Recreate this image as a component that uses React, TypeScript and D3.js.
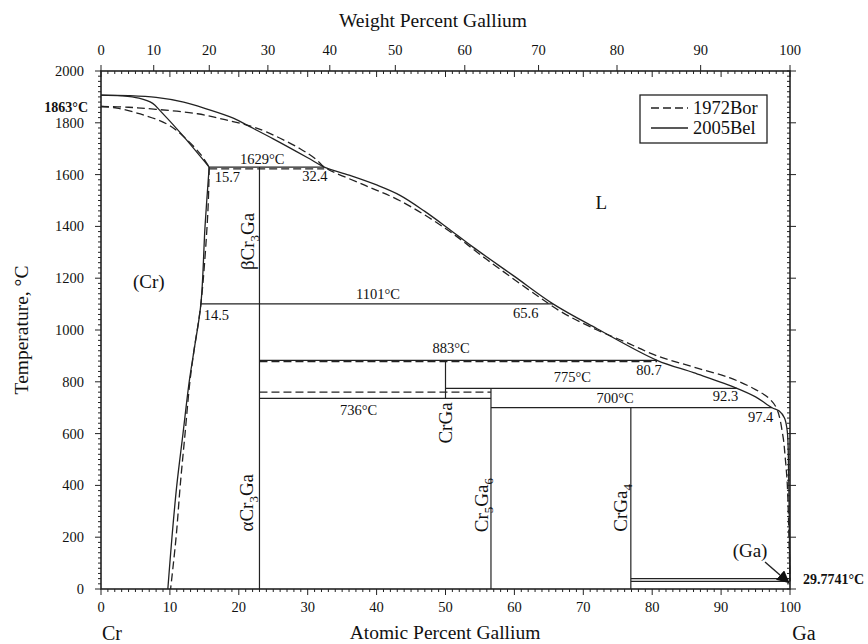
import React, { useEffect, useRef } from 'react';
import * as d3 from 'd3';

type Pt = [number, number];

// 2005Bel (solid) — atomic % Ga, temperature °C
const belLiquidus: Pt[] = [
  [0, 1907], [4, 1905], [8, 1898], [12, 1880], [15.4, 1853], [19.2, 1818], [21.6, 1785], [25, 1738],
  [30, 1665], [32.4, 1629], [36, 1598], [40, 1560], [43.4, 1520], [47, 1458], [50.5, 1390], [54, 1320],
  [60, 1207], [65.6, 1101], [72, 1005], [80.7, 883], [86, 835], [92.3, 775], [95, 742],
  [97.4, 700], [98.4, 688], [99.2, 660], [99.6, 610], [99.8, 450], [99.92, 200], [100, 29.77],
];
const belSolidus: Pt[] = [[0, 1907], [3, 1904], [5.5, 1895], [7.5, 1875], [8.6, 1846], [11.5, 1762], [15.7, 1629]];
const belSolvus: Pt[] = [[15.7, 1629], [15.1, 1400], [14.5, 1101], [13.5, 921], [12.8, 800], [11.9, 600], [11.0, 400], [10.3, 200], [9.7, 0]];

// 1972Bor (dashed)
const borLiquidus: Pt[] = [
  [0, 1863], [4, 1860], [8, 1852], [14, 1835], [18, 1812], [21.6, 1788], [24, 1765], [28.9, 1700],
  [31.3, 1657], [32.4, 1629], [38, 1562], [43.4, 1499], [50, 1392], [56, 1272], [63.7, 1125], [67, 1067],
  [72, 1000], [76, 955], [80.7, 900], [86, 857], [91.3, 815], [95, 770], [97, 735],
  [98.1, 695], [99, 586], [99.3, 509], [99.6, 408], [99.85, 200], [100, 29.77],
];
const borSolidus: Pt[] = [[0, 1863], [2.3, 1857], [5.7, 1834], [9.6, 1795], [11.9, 1749], [14.4, 1680], [15.7, 1629]];
const borSolvus: Pt[] = [[15.7, 1629], [15.5, 1450], [14.5, 1101], [13.5, 921], [12.9, 800], [12.2, 600], [11.5, 400], [10.9, 200], [10.1, 0]];

// isotherms: [from at%, to at%, T]
const belIsotherms: [number, number, number][] = [
  [15.7, 32.4, 1629], [14.5, 65.6, 1101], [23, 80.7, 883], [50, 92.3, 775],
  [23, 56.6, 736], [56.6, 97.4, 700], [76.9, 100, 29.7741], [76.9, 100, 40],
];
const borIsotherms: [number, number, number][] = [[15.7, 32.4, 1622], [23, 80.7, 878], [23, 56.6, 760]];

// compound lines: [at%, top T, bottom T]
const compounds: [number, number, number][] = [[23, 1629, 0], [50, 883, 736], [56.6, 775, 0], [76.9, 700, 0]];

const atTicks = d3.range(0, 101, 10);
const tempTicks = d3.range(0, 2001, 200);
const wtTicks = d3.range(0, 101, 10);

// numeric labels: [text, at%, T, anchor]
const numLabels: [string, number, number, string][] = [
  ['1629°C', 23.4, 1639, 'middle'], ['15.7', 16.5, 1570, 'start'], ['32.4', 29.2, 1574, 'start'],
  ['14.5', 14.9, 1040, 'start'], ['1101°C', 40.2, 1121, 'middle'],
  ['65.6', 59.8, 1047, 'start'], ['883°C', 50.8, 910, 'middle'], ['775°C', 68.4, 798, 'middle'],
  ['736°C', 37.4, 673, 'middle'], ['700°C', 74.6, 717, 'middle'], ['80.7', 77.7, 826, 'start'],
  ['92.3', 88.8, 726, 'start'], ['97.4', 93.9, 645, 'start'],
];
// region labels
const regionLabels: [string, number, number][] = [['(Cr)', 6.95, 1162], ['L', 72.6, 1469], ['(Ga)', 94.2, 124]];

// rotated phase labels: [parts with subscripts, at%, T]
const phaseLabels: [[string, boolean][], number, number][] = [
  [[['βCr', false], ['3', true], ['Ga', false]], 22.2, 1342],
  [[['αCr', false], ['3', true], ['Ga', false]], 22.0, 333],
  [[['CrGa', false]], 50.9, 641],
  [[['Cr', false], ['5', true], ['Ga', false], ['6', true]], 56.1, 324],
  [[['CrGa', false], ['4', true]], 76.3, 313],
];

const wtToAt = (w: number) => {
  const g = w / 69.723;
  const c = (100 - w) / 51.996;
  return (g / (g + c)) * 100;
};

const App = () => {
  const svgRef = useRef<SVGSVGElement>(null);

  useEffect(() => {
    const svg = d3.select(svgRef.current);
    svg.selectAll('*').remove();
    const font = 'Liberation Serif, Times New Roman, serif';

    const x = d3.scaleLinear().domain([0, 100]).range([101, 790]);
    const y = d3.scaleLinear().domain([0, 2000]).range([589, 71]);
    const line = d3.line<Pt>().x(d => x(d[0])).y(d => y(d[1])).curve(d3.curveCatmullRom.alpha(0.5));

    const g = svg.append('g').attr('stroke', '#222').attr('fill', 'none');

    // frame
    g.append('rect').attr('x', x(0)).attr('y', y(2000)).attr('width', x(100) - x(0)).attr('height', y(0) - y(2000)).attr('stroke-width', 1.6);

    // bottom ticks outward, mirrored on top inward
    d3.range(0, 101, 1).forEach(v => {
      const len = v % 10 === 0 ? 6 : 3;
      g.append('line').attr('x1', x(v)).attr('x2', x(v)).attr('y1', y(0)).attr('y2', y(0) + len).attr('stroke-width', 1);
      g.append('line').attr('x1', x(v)).attr('x2', x(v)).attr('y1', y(2000)).attr('y2', y(2000) + len).attr('stroke-width', 1);
    });
    // left ticks outward, right ticks inward (majors poke out)
    d3.range(0, 2001, 20).forEach(v => {
      const major = v % 200 === 0;
      const len = major ? 6 : 3;
      g.append('line').attr('x1', x(0) - len).attr('x2', x(0)).attr('y1', y(v)).attr('y2', y(v)).attr('stroke-width', 1);
      g.append('line').attr('x1', x(100) - 3).attr('x2', x(100) + (major ? 6 : 0)).attr('y1', y(v)).attr('y2', y(v)).attr('stroke-width', 1);
    });
    // top weight-percent ticks (outward)
    wtTicks.forEach(w => {
      g.append('line').attr('x1', x(wtToAt(w))).attr('x2', x(wtToAt(w))).attr('y1', y(2000)).attr('y2', y(2000) - 6).attr('stroke-width', 1);
    });

    const txt = svg.append('g').attr('font-family', font).attr('fill', '#111');
    atTicks.forEach(v => {
      txt.append('text').attr('x', x(v)).attr('y', 612).attr('text-anchor', 'middle').attr('font-size', 14.5).text(v);
    });
    wtTicks.forEach(w => {
      txt.append('text').attr('x', x(wtToAt(w))).attr('y', 55).attr('text-anchor', 'middle').attr('font-size', 14.5).text(w);
    });
    tempTicks.forEach(v => {
      txt.append('text').attr('x', 84).attr('y', y(v) + 5).attr('text-anchor', 'end').attr('font-size', 14.5).text(v);
    });

    // curves
    const curve = (pts: Pt[], dashed: boolean) =>
      g.append('path').attr('d', line(pts)).attr('stroke-width', 1.3).attr('stroke-dasharray', dashed ? '8,4' : null);
    [belLiquidus, belSolidus, belSolvus].forEach(p => curve(p, false));
    [borLiquidus, borSolidus, borSolvus].forEach(p => curve(p, true));

    belIsotherms.forEach(([a, b, t]) => {
      g.append('line').attr('x1', x(a)).attr('x2', x(b)).attr('y1', y(t)).attr('y2', y(t)).attr('stroke-width', 1.2);
    });
    borIsotherms.forEach(([a, b, t]) => {
      g.append('line').attr('x1', x(a)).attr('x2', x(b)).attr('y1', y(t)).attr('y2', y(t)).attr('stroke-width', 1.3).attr('stroke-dasharray', '8,4');
    });
    compounds.forEach(([c, t1, t2]) => {
      g.append('line').attr('x1', x(c)).attr('x2', x(c)).attr('y1', y(t1)).attr('y2', y(t2)).attr('stroke-width', 1.2);
    });

    // labels
    numLabels.forEach(([s, a, t, anchor]) => {
      txt.append('text').attr('x', x(a)).attr('y', y(t)).attr('text-anchor', anchor).attr('font-size', 14.5).text(s);
    });
    regionLabels.forEach(([s, a, t]) => {
      txt.append('text').attr('x', x(a)).attr('y', y(t)).attr('text-anchor', 'middle').attr('font-size', 19).text(s);
    });
    phaseLabels.forEach(([parts, a, t]) => {
      const el = txt.append('text').attr('transform', `translate(${x(a)},${y(t)}) rotate(-90)`)
        .attr('text-anchor', 'middle').attr('font-size', 19);
      let down = false;
      parts.forEach(([s, sub]) => {
        const dy = sub && !down ? 5 : !sub && down ? -5 : 0;
        down = sub;
        el.append('tspan').attr('dy', dy).attr('font-size', sub ? 13 : 19).text(s);
      });
    });

    // bold endpoint temperatures
    txt.append('text').attr('x', 88).attr('y', 112).attr('text-anchor', 'end').attr('font-size', 14).attr('font-weight', 'bold').text('1863°C');
    txt.append('text').attr('x', 803).attr('y', 584).attr('font-size', 14).attr('font-weight', 'bold').text('29.7741°C');

    // (Ga) arrow
    svg.append('defs').append('marker').attr('id', 'arr').attr('viewBox', '0 0 10 10').attr('refX', 9).attr('refY', 5)
      .attr('markerWidth', 9).attr('markerHeight', 9).attr('orient', 'auto')
      .append('path').attr('d', 'M0,0 L10,5 L0,10 z').attr('fill', '#111');
    g.append('line').attr('x1', 765).attr('y1', 562).attr('x2', x(99.8)).attr('y2', y(25)).attr('stroke-width', 1.4).attr('marker-end', 'url(#arr)');

    // axis titles
    txt.append('text').attr('x', 433).attr('y', 27).attr('text-anchor', 'middle').attr('font-size', 19.5).text('Weight Percent Gallium');
    txt.append('text').attr('x', 445).attr('y', 639).attr('text-anchor', 'middle').attr('font-size', 19.5).text('Atomic Percent Gallium');
    txt.append('text').attr('x', 112).attr('y', 640).attr('text-anchor', 'middle').attr('font-size', 20).text('Cr');
    txt.append('text').attr('x', 804).attr('y', 640).attr('text-anchor', 'middle').attr('font-size', 20).text('Ga');
    txt.append('text').attr('transform', 'translate(28,330) rotate(-90)').attr('text-anchor', 'middle').attr('font-size', 19.5).text('Temperature, °C');

    // legend
    const lg = svg.append('g');
    lg.append('rect').attr('x', 640).attr('y', 95).attr('width', 127).attr('height', 48).attr('fill', '#fff').attr('stroke', '#222').attr('stroke-width', 1.3);
    [['1972Bor', '8,4'], ['2005Bel', null]].forEach(([name, dash], i) => {
      const ly = 108 + i * 20;
      lg.append('line').attr('x1', 651).attr('x2', 688).attr('y1', ly).attr('y2', ly).attr('stroke', '#222').attr('stroke-width', 1.3).attr('stroke-dasharray', dash);
      lg.append('text').attr('x', 693).attr('y', ly + 6).attr('font-family', font).attr('font-size', 18.5).attr('fill', '#111').text(name as string);
    });
  }, []);

  return <svg ref={svgRef} width={868} height={644} style={{ position: 'absolute', left: 0, top: 0, background: '#fff' }} />;
};

export default App;
